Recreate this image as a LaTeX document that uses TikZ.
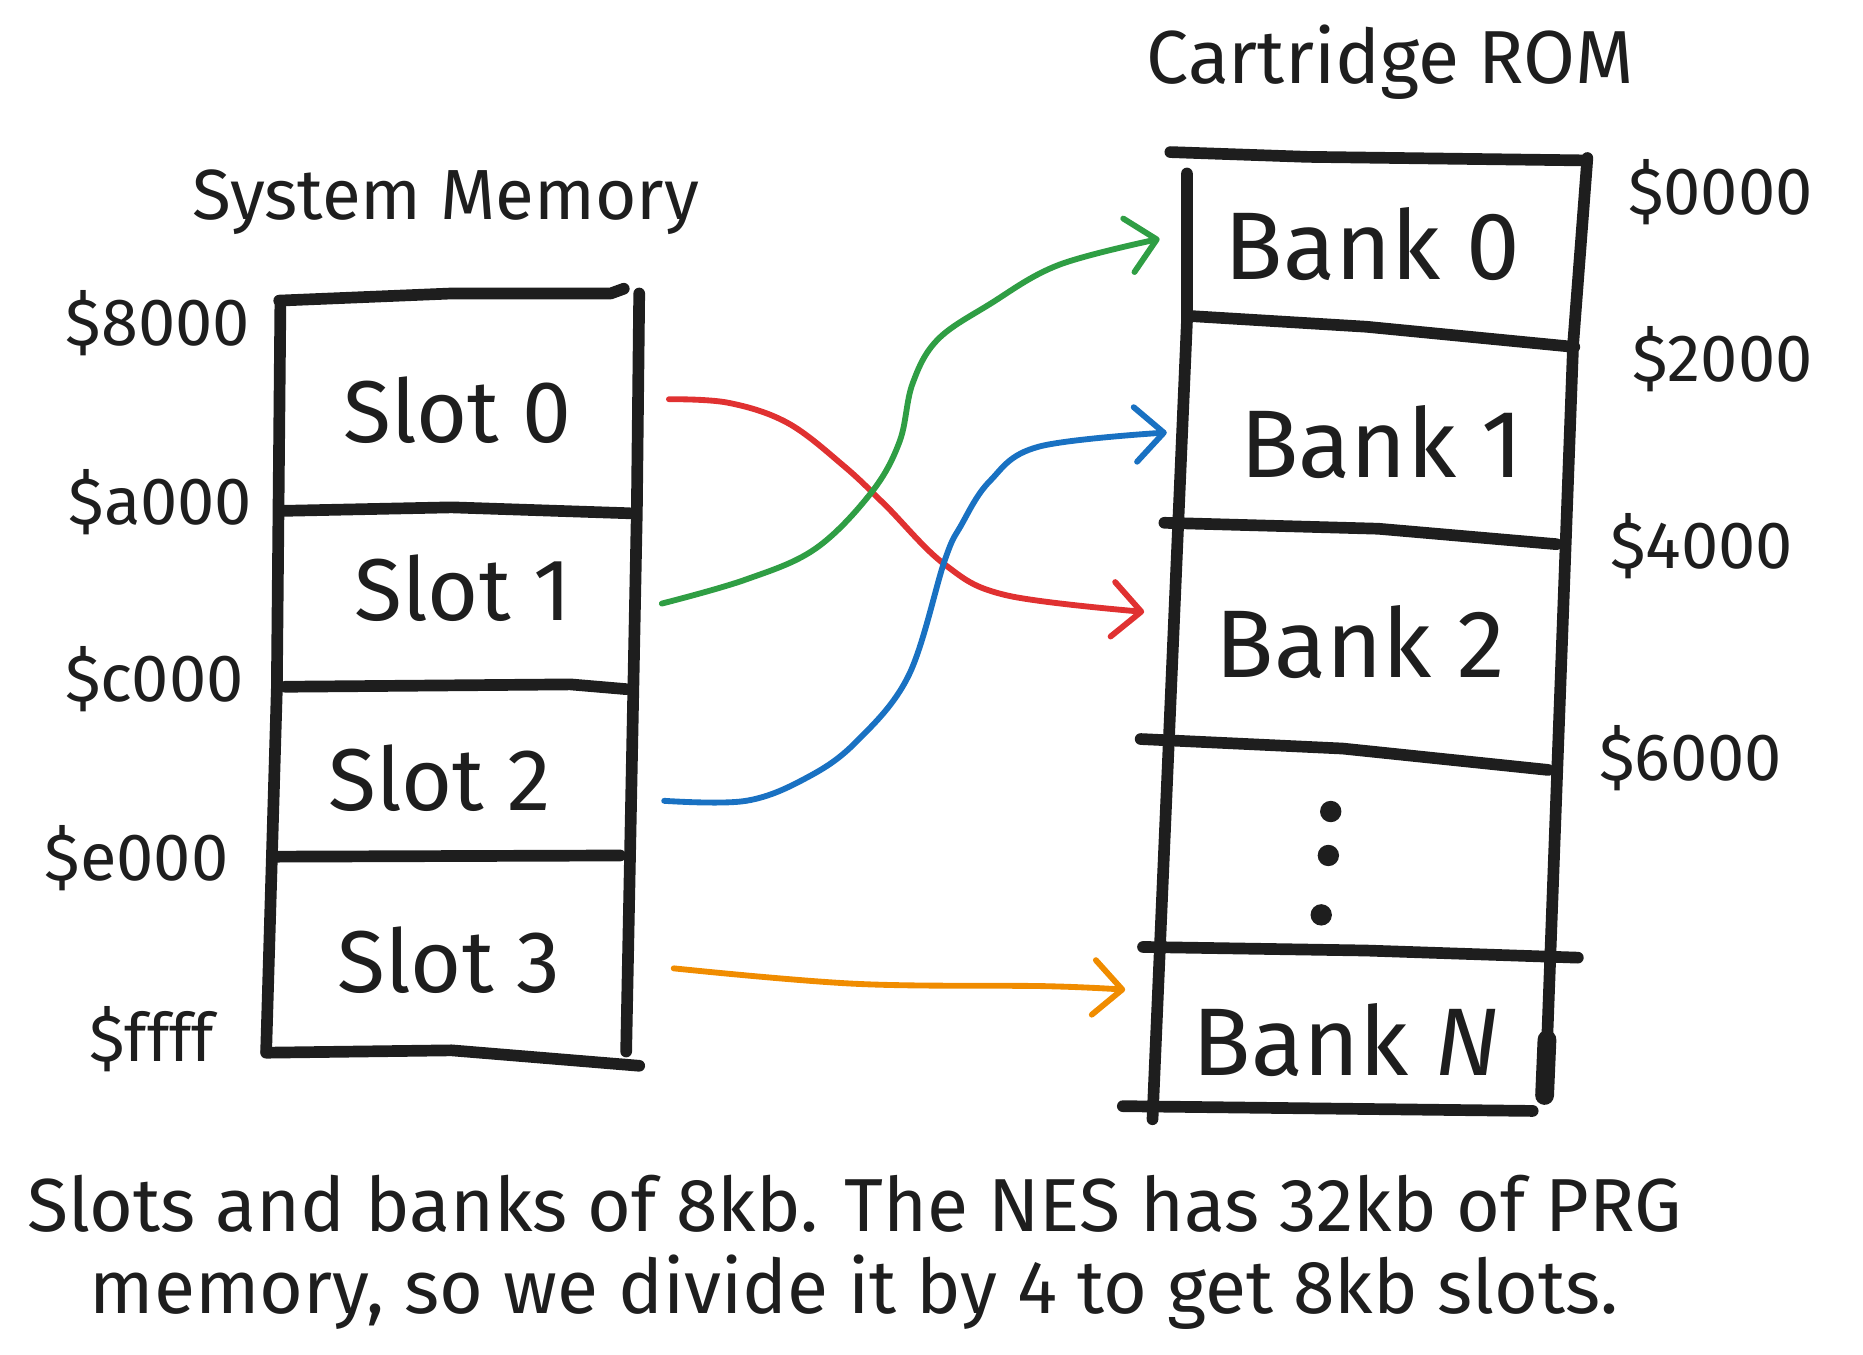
\documentclass[tikz,border=0pt]{standalone}
\usepackage{fontspec}
\setmainfont{Fira Sans}
\usepackage{xcolor}
\usepackage{tikz}
\usetikzlibrary{arrows.meta, positioning}

\definecolor{ink}{HTML}{1E1E1E}
\definecolor{mapred}{HTML}{E03131}
\definecolor{mapgreen}{HTML}{2F9E44}
\definecolor{mapblue}{HTML}{1971C2}
\definecolor{maporange}{HTML}{F08C00}

\begin{document}
\begin{tikzpicture}[
    % ── Box outlines: thick, round ends ──────────────────────────────
    wall/.style={draw=ink, line width=2.8pt, line cap=round, line join=round},
    % ── Text styles ──────────────────────────────────────────────────
    title/.style={font=\fontsize{17}{20}\selectfont, text=ink},
    addr/.style={font=\fontsize{16}{18}\selectfont, text=ink},
    slot/.style={font=\fontsize{21}{24}\selectfont, text=ink},
    bank/.style={font=\fontsize{23}{26}\selectfont, text=ink},
    note/.style={font=\fontsize{18}{19.5}\selectfont, text=ink, align=center},
    % ── Mapping arrows: thin, open chevron tip ───────────────────────
    maparrow/.style={line width=1.4pt, line cap=round, line join=round,
        -{Straight Barb[length=2.4mm, width=4.6mm, round]}}
]
\useasboundingbox (0,0) rectangle (15.68,-11.40);

% ══════════════════════════════════════════════════════════════════════
% SYSTEM MEMORY
% ══════════════════════════════════════════════════════════════════════
    \node[title] (sysmem) at (3.75,-1.70) {System Memory};

    \draw[wall] (2.35,-2.53) -- (3.80,-2.47) -- (5.14,-2.47) -- (5.25,-2.43);
    \draw[wall] (5.38,-2.47) -- (5.36,-4.30) -- (5.27,-8.85);
    \draw[wall] (2.36,-2.55) -- (2.33,-5.80) -- (2.24,-8.85);
    \draw[wall] (2.36,-4.30) -- (3.80,-4.27) -- (5.30,-4.32);
    \draw[wall] (2.40,-5.78) -- (4.80,-5.76) -- (5.27,-5.80);
    \draw[wall] (2.32,-7.21) -- (5.22,-7.20);
    \draw[wall] (2.24,-8.86) -- (3.80,-8.84) -- (5.38,-8.97);

    \node[slot] (slot0) at (3.85,-3.45) {Slot 0};
    \node[slot] (slot1) at (3.90,-4.95) {Slot 1};
    \node[slot] (slot2) at (3.70,-6.55) {Slot 2};
    \node[slot] (slot3) at (3.78,-8.08) {Slot 3};

    \node[addr] (a8000) at (1.33,-2.72) {\$8000};
    \node[addr] (aa000) at (1.35,-4.23) {\$a000};
    \node[addr] (ac000) at (1.30,-5.72) {\$c000};
    \node[addr] (ae000) at (1.15,-7.22) {\$e000};
    \node[addr] (affff) at (1.28,-8.75) {\$ffff};

% ══════════════════════════════════════════════════════════════════════
% CARTRIDGE ROM
% ══════════════════════════════════════════════════════════════════════
    \node[title, font=\fontsize{18}{20}\selectfont] (cartrom) at (11.70,-0.52)
        {Cartridge ROM};

    \draw[wall] (9.85,-1.28) -- (11.00,-1.32) -- (13.33,-1.35);
    \draw[wall] (9.99,-1.46) -- (9.99,-2.70) -- (9.70,-9.42);
    \draw[wall] (13.36,-1.33) -- (13.24,-2.90) -- (13.02,-8.80);
    \draw[ink, line width=4.5pt, line cap=round] (13.02,-8.75) -- (13.00,-9.22);
    \draw[wall] (10.02,-2.66) -- (11.50,-2.75) -- (13.25,-2.92);
    \draw[wall] (9.80,-4.40) -- (11.60,-4.45) -- (13.10,-4.58);
    \draw[wall] (9.60,-6.22) -- (11.30,-6.30) -- (13.03,-6.48);
    \draw[wall] (9.62,-7.97) -- (11.50,-8.00) -- (13.28,-8.06);
    \draw[wall] (9.45,-9.31) -- (12.90,-9.35);

    \node[bank] (bank0) at (11.55,-2.05) {Bank 0};
    \node[bank] (bank1) at (11.63,-3.72) {Bank 1};
    \node[bank] (bank2) at (11.45,-5.40) {Bank 2};
    \node[bank] (bankN) at (11.33,-8.75) {Bank \textit{N}};

    \fill[ink] (11.20,-6.83) circle (0.09);
    \fill[ink] (11.18,-7.20) circle (0.09);
    \fill[ink] (11.12,-7.70) circle (0.09);

    \node[addr] (a0000) at (14.48,-1.62) {\$0000};
    \node[addr] (a2000) at (14.50,-3.02) {\$2000};
    \node[addr] (a4000) at (14.32,-4.60) {\$4000};
    \node[addr] (a6000) at (14.23,-6.38) {\$6000};

% ══════════════════════════════════════════════════════════════════════
% MAPPING ARROWS
% ══════════════════════════════════════════════════════════════════════
    \coordinate (from0) at (5.63,-3.36);
    \coordinate (from1) at (5.57,-5.08);
    \coordinate (from2) at (5.59,-6.74);
    \coordinate (from3) at (5.67,-8.15);
    \coordinate (to0) at (9.76,-2.01);
    \coordinate (to1) at (9.82,-3.64);
    \coordinate (to2) at (9.63,-5.15);
    \coordinate (to3) at (9.47,-8.33);

    % slot 0 -> bank 2
    \draw[maparrow, mapred] plot[smooth, tension=0.6] coordinates
        {(from0) (6.13,-3.39) (6.63,-3.56) (7.10,-3.92) (7.45,-4.25)
         (7.95,-4.75) (8.47,-5.01) (to2)};
    % slot 1 -> bank 0
    \draw[maparrow, mapgreen] plot[smooth, tension=0.6] coordinates
        {(from1) (6.27,-4.88) (6.86,-4.62) (7.33,-4.15) (7.57,-3.72)
         (7.68,-3.23) (7.89,-2.86) (8.33,-2.56) (8.91,-2.23) (to0)};
    % slot 2 -> bank 1
    \draw[maparrow, mapblue] plot[smooth, tension=0.6] coordinates
        {(from2) (6.28,-6.74) (6.80,-6.54) (7.21,-6.24) (7.65,-5.68)
         (7.95,-4.72) (8.09,-4.42) (8.33,-4.05) (8.74,-3.76) (to1)};
    % slot 3 -> bank N
    \draw[maparrow, maporange] plot[smooth, tension=0.6] coordinates
        {(from3) (7.20,-8.28) (8.80,-8.30) (to3)};

% ══════════════════════════════════════════════════════════════════════
% CAPTION
% ══════════════════════════════════════════════════════════════════════
    \node[note] (caption) at (7.19,-10.54)
        {Slots and banks of 8kb. The NES has 32kb of PRG\\
         memory, so we divide it by 4 to get 8kb slots.};

\end{tikzpicture}
\end{document}
